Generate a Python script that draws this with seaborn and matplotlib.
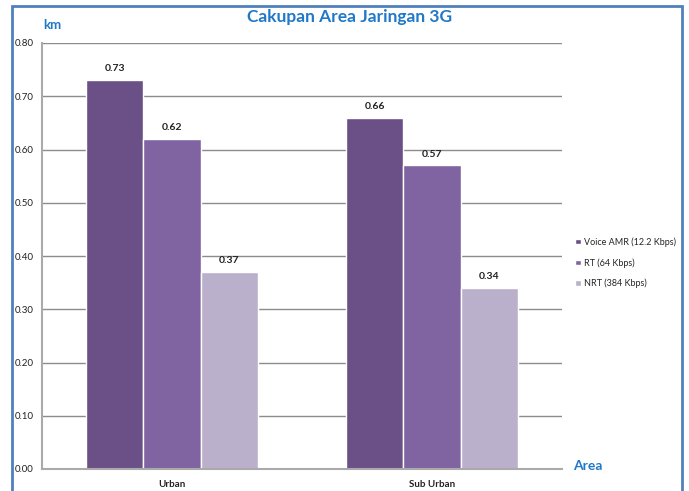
import pandas as pd
import matplotlib.pyplot as plt
import seaborn as sns
from matplotlib.patches import Rectangle

# Data
areas = ['Urban', 'Sub Urban']
series = ['Voice AMR (12.2 Kbps)', 'RT (64 Kbps)', 'NRT (384 Kbps)']
voice_amr = [0.73, 0.66]
rt = [0.62, 0.57]
nrt = [0.37, 0.34]
colors = ['#6A5087', '#8064A2', '#BAB0CC']

df = pd.DataFrame({
    'Area': areas * 3,
    'Service': [s for s in series for _ in areas],
    'km': voice_amr + rt + nrt,
})

sns.set_style("white")
plt.rcParams['font.family'] = ['Lato', 'DejaVu Sans']

fig = plt.figure(figsize=(6.89, 4.91), dpi=100)
ax = fig.add_axes([42/689, 1 - 469/491, 520/689, 426/491])

sns.barplot(data=df, x='Area', y='km', hue='Service', palette=colors,
            width=0.66, edgecolor='white', linewidth=1, saturation=1, ax=ax)

for cont in ax.containers:
    ax.bar_label(cont, fmt='%.2f', padding=5, fontsize=7.5, fontweight='bold', color='#222222')

ax.set_ylim(0, 0.8)
ax.set_yticks([i / 10 for i in range(9)])
ax.set_yticklabels([f'{i/10:.2f}' for i in range(9)], fontsize=7, color='#222222')
ax.set_xlim(-0.5, 1.5)
ax.set_xticks([0, 1])
ax.set_xticklabels(areas, fontsize=7, fontweight='bold', color='#222222')
ax.tick_params(axis='x', length=0, pad=8)
ax.tick_params(axis='y', length=4, color='#999999', pad=2)
ax.set_xticks([-0.5, 0.5, 1.5], minor=True)
ax.tick_params(axis='x', which='minor', length=4, color='#999999')
ax.yaxis.grid(True, color='#8c8c8c', linewidth=1)
ax.set_axisbelow(True)
for s in ['top', 'right']:
    ax.spines[s].set_visible(False)
for s in ['left', 'bottom']:
    ax.spines[s].set_color('#aaaaaa')
    ax.spines[s].set_linewidth(1.5)
ax.set_xlabel('')
ax.set_ylabel('')

ax.legend(loc='center left', bbox_to_anchor=(1.01, 0.484), frameon=False,
          fontsize=6.5, handlelength=0.6, handleheight=0.6, handletextpad=0.4,
          labelspacing=1.25)

fig.text(350/689, 1 - 17/491, 'Cakupan Area Jaringan 3G', ha='center', va='center',
         fontsize=12.5, fontweight='bold', color='#1F78C8')
fig.text(52/689, 1 - 25/491, 'km', ha='center', va='center',
         fontsize=9.5, fontweight='bold', color='#1F78C8')
fig.text(588/689, 1 - 466/491, 'Area', ha='center', va='center',
         fontsize=10, fontweight='bold', color='#1F78C8')

fig.patches.append(Rectangle((12/689, -0.05), 670/689, 1.05 - 6/491, transform=fig.transFigure,
                             fill=False, edgecolor='#4F81BD', linewidth=2))

fig.savefig('out.png', dpi=100)
